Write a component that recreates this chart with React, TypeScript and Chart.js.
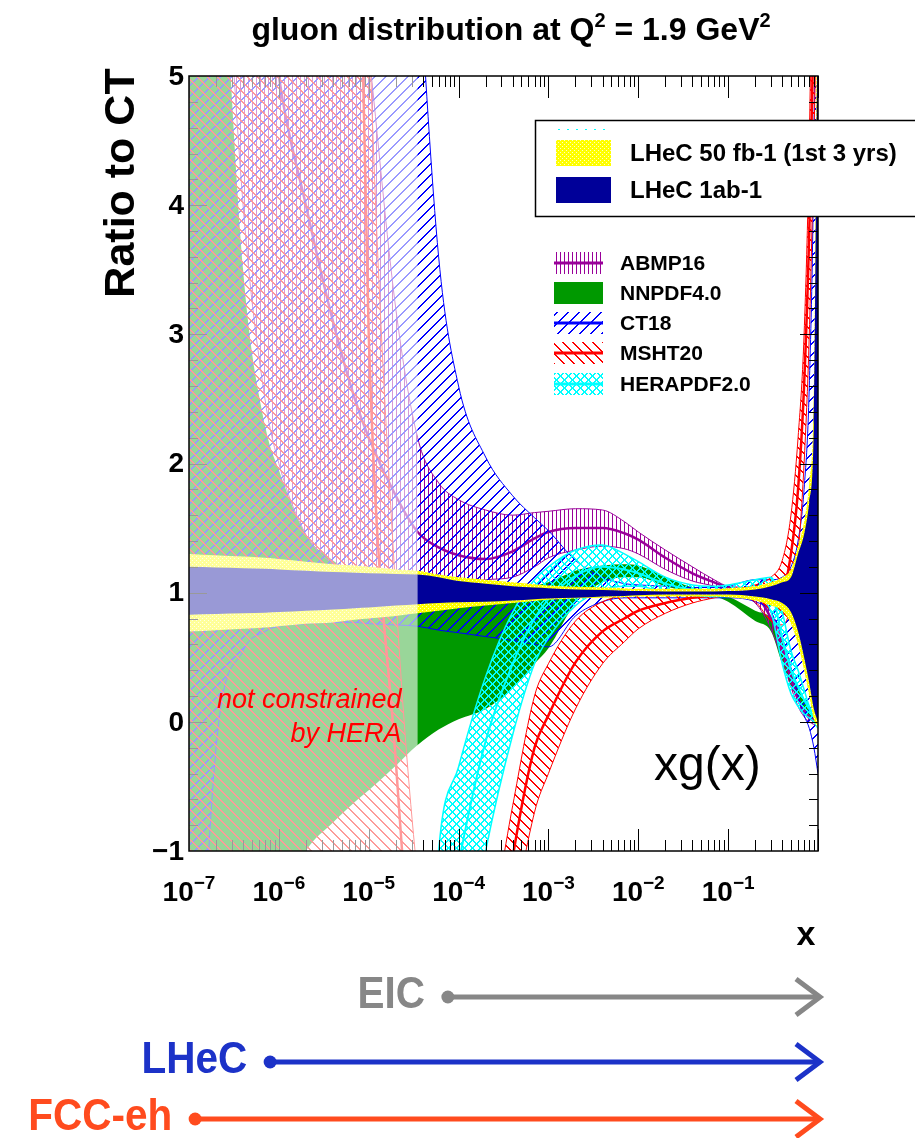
import React, { useEffect, useRef } from 'react';
import { Chart, registerables } from 'chart.js';

Chart.register(...registerables);

// ---------------- data ----------------
const X = [1e-7, 2e-7, 4e-7, 7e-7, 1e-6, 2e-6, 4e-6, 7e-6, 1e-5, 2e-5, 3.5e-5, 6e-5, 1e-4, 2e-4, 4e-4, 7e-4, 1e-3, 2e-3, 4e-3, 7e-3, 1e-2, 2e-2, 4e-2, 7e-2, 0.1, 0.2, 0.3, 0.4, 0.5, 0.6, 0.7, 0.8, 0.9, 1.0];

const LHEC1_UP = [1.2, 1.195, 1.19, 1.185, 1.18, 1.17, 1.16, 1.155, 1.15, 1.145, 1.14, 1.12, 1.09, 1.07, 1.05, 1.04, 1.035, 1.025, 1.02, 1.015, 1.012, 1.01, 1.01, 1.01, 1.012, 1.025, 1.05, 1.08, 1.12, 1.3, 1.45, 1.7, 2.3, 6];
const LHEC1_LO = [0.83, 0.835, 0.84, 0.845, 0.85, 0.86, 0.87, 0.88, 0.885, 0.9, 0.91, 0.92, 0.925, 0.93, 0.94, 0.95, 0.955, 0.96, 0.97, 0.975, 0.98, 0.985, 0.985, 0.985, 0.985, 0.97, 0.95, 0.92, 0.85, 0.7, 0.5, 0.3, 0.1, 0.0];
const LHEC50_UP = [1.30, 1.29, 1.28, 1.27, 1.26, 1.24, 1.22, 1.21, 1.2, 1.18, 1.17, 1.14, 1.12, 1.10, 1.08, 1.065, 1.055, 1.045, 1.04, 1.035, 1.03, 1.03, 1.03, 1.03, 1.035, 1.05, 1.08, 1.12, 1.18, 1.36, 1.55, 1.85, 2.6, 7];
const LHEC50_LO = [0.70, 0.71, 0.72, 0.73, 0.74, 0.76, 0.77, 0.79, 0.8, 0.82, 0.84, 0.86, 0.88, 0.9, 0.92, 0.935, 0.945, 0.955, 0.96, 0.965, 0.97, 0.97, 0.97, 0.97, 0.965, 0.94, 0.9, 0.86, 0.76, 0.6, 0.4, 0.2, 0.02, -0.05];

const HERA_UP = [-8, -8, -8, -8, -8, -8, -8, -8, -8, -8, -4, -1.0, -0.35, 0.35, 0.85, 1.1, 1.2, 1.33, 1.37, 1.3, 1.24, 1.12, 1.06, 1.05, 1.06, 1.1, 1.12, 0.85, 0.55, 0.4, 0.25, 0.12, 0.05, 0.0];
const HERA_C = [-9, -9, -9, -9, -9, -9, -9, -9, -9, -9, -5, -2.0, -1.1, -0.15, 0.45, 0.8, 0.95, 1.13, 1.2, 1.18, 1.15, 1.07, 1.02, 1.0, 1.0, 1.04, 1.0, 0.65, 0.4, 0.27, 0.17, 0.1, 0.04, 0.0];
const HERA_LO = [-10, -10, -10, -10, -10, -10, -10, -10, -10, -10, -7, -3.5, -2.2, -1.0, -0.1, 0.45, 0.65, 0.9, 1.02, 1.05, 1.05, 1.0, 0.98, 0.97, 0.97, 0.97, 0.85, 0.45, 0.22, 0.12, 0.06, 0.03, 0.0, -0.05];

const MSHT_UP = [12, 12, 12, 12, 12, 12, 12, 10, 5.5, 1.0, -1.2, -2.3, -2.4, -1.8, -0.65, 0.2, 0.45, 0.78, 0.93, 0.98, 1.0, 1.0, 0.99, 1.0, 1.02, 1.06, 1.12, 1.25, 1.6, 2.2, 3.0, 4.5, 7, 10];
const MSHT_C = [11, 11, 11, 11, 11, 11, 11, 8, 3.0, -0.3, -2.5, -3.5, -3.5, -2.5, -1.05, -0.2, 0.05, 0.46, 0.7, 0.8, 0.86, 0.92, 0.96, 0.98, 1.0, 1.0, 0.95, 1.0, 1.3, 1.8, 2.6, 3.8, 5.5, 8];
const MSHT_LO = [-5, -5, -5, -5, -5, -5, -5, -5, -5, -5, -6, -6, -5.5, -3.3, -1.6, -0.7, -0.4, 0.1, 0.45, 0.62, 0.72, 0.84, 0.92, 0.96, 0.98, 0.93, 0.78, 0.75, 0.9, 1.3, 2.0, 3.0, 4.5, 6];

const CT18_UP = [20, 20, 20, 20, 20, 18, 16, 14, 12, 9, 6.0, 3.6, 2.6, 2.05, 1.75, 1.58, 1.48, 1.25, 1.12, 1.07, 1.06, 1.05, 1.04, 1.04, 1.05, 1.1, 1.1, 1.12, 1.2, 1.4, 1.8, 2.6, 4.5, 9];
const CT18_LO = [-4, -0.2, 0.55, 0.7, 0.74, 0.76, 0.77, 0.77, 0.76, 0.75, 0.74, 0.71, 0.69, 0.66, 0.63, 0.6, 0.58, 0.82, 0.93, 0.96, 0.96, 0.96, 0.96, 0.96, 0.96, 0.93, 0.85, 0.65, 0.42, 0.2, 0.05, -0.05, -0.2, -0.4];

const ABMP_UP = [30, 25, 20, 16, 13, 10, 8, 6.2, 5.2, 3.2, 2.2, 1.85, 1.72, 1.64, 1.6, 1.62, 1.63, 1.65, 1.64, 1.55, 1.47, 1.33, 1.2, 1.1, 1.05, 1.02, 0.85, 0.62, 0.38, 0.2, 0.1, 0.05, 0.02, 0.0];
const ABMP_C = [16, 11, 8, 6, 5.0, 4.0, 3.1, 2.5, 2.2, 1.75, 1.47, 1.35, 1.29, 1.26, 1.32, 1.42, 1.47, 1.5, 1.5, 1.46, 1.41, 1.27, 1.15, 1.08, 1.04, 0.98, 0.8, 0.56, 0.33, 0.17, 0.08, 0.03, 0.01, 0.0];
const ABMP_LO = [12, 7.5, 4.0, 2.5, 2.0, 1.45, 1.22, 1.12, 1.1, 1.08, 1.07, 1.06, 1.07, 1.1, 1.12, 1.2, 1.27, 1.33, 1.36, 1.34, 1.3, 1.18, 1.09, 1.05, 1.01, 0.92, 0.72, 0.48, 0.27, 0.12, 0.04, 0.0, -0.02, -0.03];

const NNPDF_UP = [10, 7, 3.5, 2.3, 1.95, 1.45, 1.25, 1.15, 1.1, 1.05, 1.0, 0.98, 0.97, 0.97, 1.0, 1.05, 1.08, 1.17, 1.21, 1.22, 1.21, 1.12, 1.04, 1.0, 0.97, 0.86, 0.8, 0.62, 0.42, 0.27, 0.17, 0.08, 0.03, 0.0];
const NNPDF_LO = [-4, -3, -2.2, -1.7, -1.45, -1.0, -0.78, -0.62, -0.53, -0.34, -0.18, -0.06, 0.02, 0.1, 0.26, 0.45, 0.57, 0.92, 1.08, 1.12, 1.12, 1.05, 1.0, 0.97, 0.93, 0.78, 0.7, 0.45, 0.28, 0.17, 0.1, 0.04, 0.0, -0.02];

const X_DECADES = [-7, -6, -5, -4, -3, -2, -1, 0];
const X_LABEL_EXPONENTS = [-7, -6, -5, -4, -3, -2, -1];
const X_MINOR = [2, 3, 4, 5, 6, 7, 8, 9];
const Y_LABELS = [-1, 0, 1, 2, 3, 4, 5];
const HERA_LIMIT = 3.5e-5;

const SET_NAMES = ['ABMP16', 'NNPDF4.0', 'CT18', 'MSHT20', 'HERAPDF2.0'];
const LHEC_NAMES = ['LHeC 50 fb-1 (1st 3 yrs)', 'LHeC 1ab-1'];
const ARROW_LABELS = ['EIC', 'LHeC', 'FCC-eh'];
const ARROW_START_X = [7.6e-5, 8e-7, 1.17e-7];

// ---------------- styles ----------------
const FONT = '"Liberation Sans", Arial, Helvetica, sans-serif';
const PURPLE = '#990099';
const GREEN = '#009900';
const BLUE = '#0000ff';
const RED = '#ff0000';
const CYAN = '#00ffff';
const NAVY = '#000099';
const ARROW_COLORS = ['#878787', '#1c32c8', '#ff4b1e'];

function makePattern(w: number, h: number, paint: (c: CanvasRenderingContext2D) => void): CanvasPattern {
  const cv = document.createElement('canvas');
  cv.width = w;
  cv.height = h;
  const c = cv.getContext('2d')!;
  paint(c);
  return c.createPattern(cv, 'repeat')!;
}

// diagonal hatch (about 1.4px thick) inside an s x s tile
function diagPix(c: CanvasRenderingContext2D, s: number, forward: boolean) {
  for (let i = 0; i < s; i++) {
    const y = forward ? s - 1 - i : i;
    c.fillRect(i, y, 1, 1);
    c.fillRect((i + 1) % s, y, 1, 1);
  }
}

type Part = { t: string; sup?: boolean };
function drawParts(ctx: CanvasRenderingContext2D, parts: Part[], x: number, baseline: number, size: number, supSize: number) {
  const main = `bold ${size}px ${FONT}`;
  const sup = `bold ${supSize}px ${FONT}`;
  let total = 0;
  const widths = parts.map((p) => {
    ctx.font = p.sup ? sup : main;
    const w = ctx.measureText(p.t).width;
    total += w;
    return w;
  });
  let cx = x - total / 2;
  ctx.textAlign = 'left';
  ctx.textBaseline = 'alphabetic';
  parts.forEach((p, i) => {
    ctx.font = p.sup ? sup : main;
    ctx.fillText(p.t, cx, p.sup ? baseline - size * 0.42 : baseline);
    cx += widths[i];
  });
}

export default function App() {
  const ref = useRef<HTMLCanvasElement>(null);

  useEffect(() => {
    document.body.style.margin = '0';
    const canvas = ref.current!;

    const P = {
      vert: makePattern(4, 4, (c) => {
        c.fillStyle = PURPLE;
        c.fillRect(0, 0, 1, 4);
      }),
      fwd: makePattern(11, 11, (c) => {
        c.fillStyle = BLUE;
        diagPix(c, 11, true);
      }),
      back: makePattern(10, 10, (c) => {
        c.fillStyle = RED;
        diagPix(c, 10, false);
      }),
      cross: makePattern(8, 8, (c) => {
        c.fillStyle = CYAN;
        diagPix(c, 8, true);
        diagPix(c, 8, false);
      }),
      dots: makePattern(4, 4, (c) => {
        c.fillStyle = '#ffff00';
        c.fillRect(0, 0, 4, 4);
        c.fillStyle = '#ffffc8';
        c.fillRect(0, 0, 1, 1);
        c.fillRect(2, 2, 1, 1);
      }),
    };

    const pts = (arr: number[]) => X.map((x, i) => ({ x, y: arr[i] }));
    const ds = (label: string, arr: number[], color: string, width: number, order: number, fill: number | false = false, bg: any = 'rgba(0,0,0,0)') => ({
      label,
      data: pts(arr),
      borderColor: width > 0 ? color : 'rgba(0,0,0,0)',
      borderWidth: width > 0 ? width : 1,
      backgroundColor: bg,
      fill,
      order,
      pointRadius: 0,
      pointHoverRadius: 0,
      cubicInterpolationMode: 'monotone',
    });

    const datasets: any[] = [
      ds('LHeC 1ab-1 up', LHEC1_UP, NAVY, 0, 10, 1, NAVY),
      ds('LHeC 1ab-1 lo', LHEC1_LO, NAVY, 0, 10),
      ds('LHeC 50 up', LHEC50_UP, '#ffff00', 0, 20, 3, P.dots),
      ds('LHeC 50 lo', LHEC50_LO, '#ffff00', 0, 20),
      ds('HERAPDF2.0 up', HERA_UP, CYAN, 1.5, 30, 6, P.cross),
      ds('HERAPDF2.0', HERA_C, CYAN, 2, 29),
      ds('HERAPDF2.0 lo', HERA_LO, CYAN, 1.5, 30),
      ds('MSHT20 up', MSHT_UP, RED, 1, 40, 9, P.back),
      ds('MSHT20', MSHT_C, RED, 2.5, 39),
      ds('MSHT20 lo', MSHT_LO, RED, 1, 40),
      ds('CT18 up', CT18_UP, BLUE, 1, 50, 11, P.fwd),
      ds('CT18 lo', CT18_LO, BLUE, 1, 50),
      ds('ABMP16 up', ABMP_UP, PURPLE, 1, 60, 14, P.vert),
      ds('ABMP16', ABMP_C, PURPLE, 2.5, 59),
      ds('ABMP16 lo', ABMP_LO, PURPLE, 1, 60),
      ds('NNPDF4.0 up', NNPDF_UP, GREEN, 0, 70, 16, GREEN),
      ds('NNPDF4.0 lo', NNPDF_LO, GREEN, 0, 70),
    ];

    const decor = {
      id: 'decor',
      afterDraw(chart: any) {
        const { ctx, chartArea: a, scales } = chart;
        const xs = scales.x;
        const ys = scales.y;
        ctx.save();

        // ticks (inside frame, ROOT style, all four sides)
        ctx.strokeStyle = '#000';
        ctx.lineWidth = 1;
        ctx.beginPath();
        X_DECADES.forEach((k) => {
          const base = Math.pow(10, k);
          const p = Math.round(xs.getPixelForValue(base)) + 0.5;
          ctx.moveTo(p, a.bottom);
          ctx.lineTo(p, a.bottom - 22);
          ctx.moveTo(p, a.top);
          ctx.lineTo(p, a.top + 22);
          if (k < 0) {
            X_MINOR.forEach((m) => {
              const q = Math.round(xs.getPixelForValue(m * base)) + 0.5;
              ctx.moveTo(q, a.bottom);
              ctx.lineTo(q, a.bottom - 11);
              ctx.moveTo(q, a.top);
              ctx.lineTo(q, a.top + 11);
            });
          }
        });
        for (let i = -4; i <= 24; i++) {
          const v = i / 5;
          const p = Math.round(ys.getPixelForValue(v)) + 0.5;
          const len = i % 5 === 0 ? 18 : 9;
          ctx.moveTo(a.left, p);
          ctx.lineTo(a.left + len, p);
          ctx.moveTo(a.right, p);
          ctx.lineTo(a.right - len, p);
        }
        ctx.stroke();

        // region not constrained by HERA: washed out
        const hx = xs.getPixelForValue(HERA_LIMIT);
        ctx.fillStyle = 'rgba(255,255,255,0.6)';
        ctx.fillRect(a.left, a.top, hx - a.left, a.bottom - a.top);

        // frame
        ctx.strokeStyle = '#000';
        ctx.lineWidth = 1.5;
        ctx.strokeRect(a.left, a.top, a.right - a.left, a.bottom - a.top);

        // in-plot texts
        ctx.fillStyle = RED;
        ctx.font = `italic 27px ${FONT}`;
        ctx.textAlign = 'right';
        ctx.textBaseline = 'alphabetic';
        ctx.fillText('not constrained', hx - 16, 708);
        ctx.fillText('by HERA', hx - 16, 742);

        ctx.fillStyle = '#000';
        ctx.font = `48px ${FONT}`;
        ctx.textAlign = 'left';
        ctx.fillText('xg(x)', 654, 780);

        // legend: LHeC (boxed)
        ctx.fillStyle = '#fff';
        ctx.fillRect(535, 120, 400, 97);
        ctx.strokeStyle = '#000';
        ctx.lineWidth = 1.5;
        ctx.strokeRect(535.5, 120.5, 400, 96);
        ctx.strokeStyle = CYAN;
        ctx.lineWidth = 1;
        ctx.setLineDash([2, 7]);
        ctx.beginPath();
        ctx.moveTo(558, 129.5);
        ctx.lineTo(611, 129.5);
        ctx.stroke();
        ctx.setLineDash([]);
        ctx.fillStyle = P.dots;
        ctx.fillRect(556, 140, 55, 26);
        ctx.fillStyle = NAVY;
        ctx.fillRect(556, 177, 55, 26);
        ctx.fillStyle = '#000';
        ctx.font = `bold 24px ${FONT}`;
        ctx.textBaseline = 'middle';
        ctx.fillText(LHEC_NAMES[0], 630, 154);
        ctx.fillText(LHEC_NAMES[1], 630, 191);

        // legend: PDF sets
        const fills = [P.vert, GREEN, P.fwd, P.back, P.cross];
        const lines = [PURPLE, null, BLUE, RED, CYAN];
        const rowY = [263, 293, 323, 353, 384];
        SET_NAMES.forEach((name, i) => {
          const y = rowY[i];
          ctx.fillStyle = fills[i];
          ctx.fillRect(554, y - 11, 49, 22);
          const lc = lines[i];
          if (lc) {
            ctx.strokeStyle = lc;
            ctx.lineWidth = 3;
            ctx.beginPath();
            ctx.moveTo(554, y);
            ctx.lineTo(603, y);
            ctx.stroke();
          }
          ctx.fillStyle = '#000';
          ctx.font = `bold 21px ${FONT}`;
          ctx.textAlign = 'left';
          ctx.textBaseline = 'middle';
          ctx.fillText(name, 620, y + 1);
        });

        // y tick labels
        ctx.fillStyle = '#000';
        ctx.font = `bold 28px ${FONT}`;
        ctx.textAlign = 'right';
        ctx.textBaseline = 'middle';
        Y_LABELS.forEach((v) => {
          const t = v < 0 ? '\u2212' + Math.abs(v) : String(v);
          ctx.fillText(t, a.left - 5, ys.getPixelForValue(v) + 1);
        });

        // x tick labels
        X_LABEL_EXPONENTS.forEach((k) => {
          const p = xs.getPixelForValue(Math.pow(10, k));
          drawParts(ctx, [{ t: '10' }, { t: '\u2212' + Math.abs(k), sup: true }], p, a.bottom + 50, 28, 19);
        });

        // title
        drawParts(ctx, [{ t: 'gluon distribution at Q' }, { t: '2', sup: true }, { t: ' = 1.9 GeV' }, { t: '2', sup: true }], 511, 40, 32, 20);

        // axis titles
        ctx.font = `bold 34px ${FONT}`;
        ctx.textAlign = 'center';
        ctx.textBaseline = 'middle';
        ctx.fillText('x', 806, 936);

        ctx.save();
        ctx.translate(122, 183);
        ctx.rotate(-Math.PI / 2);
        ctx.font = `bold 43px ${FONT}`;
        ctx.fillText('Ratio to CT', 0, 0);
        ctx.restore();

        // kinematic reach arrows
        const arrowY = [997, 1062, 1119];
        ARROW_LABELS.forEach((lab, i) => {
          const y = arrowY[i];
          const x0 = xs.getPixelForValue(ARROW_START_X[i]);
          const tip = a.right + 4;
          const col = ARROW_COLORS[i];
          ctx.strokeStyle = col;
          ctx.fillStyle = col;
          ctx.lineWidth = 5;
          ctx.lineCap = 'butt';
          ctx.beginPath();
          ctx.moveTo(x0, y);
          ctx.lineTo(tip - 3, y);
          ctx.stroke();
          ctx.beginPath();
          ctx.arc(x0, y, 6.5, 0, Math.PI * 2);
          ctx.fill();
          ctx.lineJoin = 'miter';
          ctx.beginPath();
          ctx.moveTo(tip - 26, y - 18);
          ctx.lineTo(tip - 2, y);
          ctx.lineTo(tip - 26, y + 18);
          ctx.stroke();
          ctx.save();
          ctx.translate(x0 - 23, y - 1);
          ctx.scale(0.92, 1);
          ctx.font = `bold 44px ${FONT}`;
          ctx.textAlign = 'right';
          ctx.textBaseline = 'middle';
          ctx.fillText(lab, 0, 0);
          ctx.restore();
        });

        ctx.restore();
      },
    };

    const chart = new Chart(canvas, {
      type: 'line',
      data: { datasets },
      options: {
        responsive: false,
        animation: false,
        devicePixelRatio: 1,
        events: [],
        layout: { padding: { left: 189, right: 97, top: 76, bottom: 287 } },
        scales: {
          x: { type: 'logarithmic', min: 1e-7, max: 1, display: false },
          y: { type: 'linear', min: -1, max: 5, display: false },
        },
        plugins: {
          legend: { display: false },
          tooltip: { enabled: false },
          filler: { drawTime: 'beforeDatasetDraw', propagate: false },
          colors: { enabled: false },
        } as any,
        elements: { point: { radius: 0 } },
      } as any,
      plugins: [decor],
    });

    return () => chart.destroy();
  }, []);

  return <canvas ref={ref} width={915} height={1138} style={{ display: 'block', width: 915, height: 1138 }} />;
}
